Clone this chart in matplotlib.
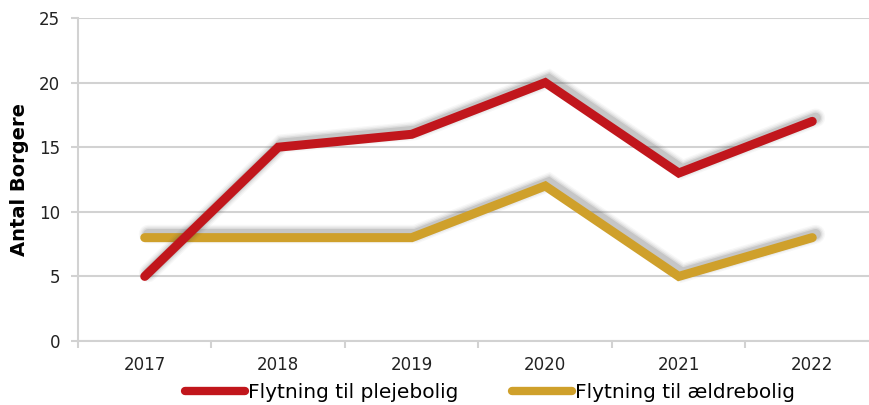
import matplotlib
matplotlib.use("Agg")
import matplotlib.pyplot as plt
import matplotlib.patheffects as pe

years = ['2017', '2018', '2019', '2020', '2021', '2022']
plejebolig = [5, 15, 16, 20, 13, 17]
aeldrebolig = [8, 8, 8, 12, 5, 8]

red = '#C1161C'
gold = '#CFA02B'
grid_col = '#D2D2D2'

plt.rcParams['font.family'] = ['DejaVu Sans']

fig = plt.figure(figsize=(8.7, 4.05), dpi=100)
ax = fig.add_axes([78 / 870, 1 - 341 / 405, 801 / 870, 323 / 405])

# blurred shadow, offset up and to the right
lw = 6.5
shadow = []
for extra, a in [(7, 0.04), (5, 0.06), (3, 0.09), (1, 0.14)]:
    shadow.append(pe.SimpleLineShadow(offset=(2.5, 2.5), shadow_color='#444444',
                                      alpha=a, linewidth=lw + extra))
shadow.append(pe.Normal())

x = list(range(len(years)))
l2, = ax.plot(x, aeldrebolig, color=gold, lw=lw, solid_capstyle='round',
              solid_joinstyle='miter', zorder=3, path_effects=shadow,
              label='Flytning til ældrebolig')
l1, = ax.plot(x, plejebolig, color=red, lw=lw, solid_capstyle='round',
              solid_joinstyle='miter', zorder=4, path_effects=shadow,
              label='Flytning til plejebolig')

ax.set_xlim(-0.5, len(years) - 0.5)
ax.set_ylim(0, 25)
ax.set_yticks([0, 5, 10, 15, 20, 25])
ax.set_xticks(x)
ax.set_xticklabels(years)
ax.set_xticks([i - 0.5 for i in range(len(years) + 1)], minor=True)
ax.tick_params(axis='x', which='major', length=0, pad=11, labelsize=12, colors='#222222')
ax.tick_params(axis='x', which='minor', length=5, width=1.5, color=grid_col)
ax.tick_params(axis='y', length=5, width=1.5, color=grid_col, pad=8,
               labelsize=12, labelcolor='#222222')

ax.grid(axis='y', color=grid_col, lw=1.5)
ax.set_axisbelow(True)
for s in ['top', 'right']:
    ax.spines[s].set_visible(False)
for s in ['left', 'bottom']:
    ax.spines[s].set_color(grid_col)
    ax.spines[s].set_linewidth(1.5)

ax.set_ylabel('Antal Borgere', fontsize=14, fontweight='bold', labelpad=7)

leg = fig.legend([l1, l2], ['Flytning til plejebolig', 'Flytning til ældrebolig'],
                 loc='center', bbox_to_anchor=(490 / 870, 1 - 393 / 405), ncol=2,
                 frameon=False, fontsize=14.5, handlelength=3.0, handletextpad=0.15,
                 columnspacing=2.65)
for h in leg.legend_handles:
    h.set_path_effects([])
    h.set_linewidth(6)

fig.savefig('out.png', dpi=100)
